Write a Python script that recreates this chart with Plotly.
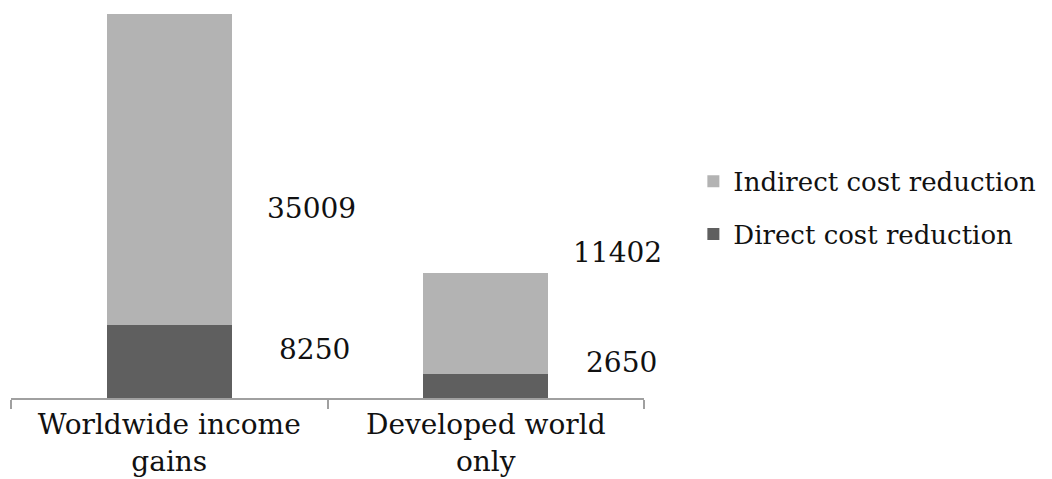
import plotly.graph_objects as go

categories = ["Worldwide income<br>gains", "Developed world<br>only"]
direct = [8250, 2650]
indirect = [35009, 11402]

FONT = "'DejaVu Serif', 'Liberation Serif', serif"
totals = [d + i for d, i in zip(direct, indirect)]

fig = go.Figure()
fig.add_trace(go.Bar(x=categories, y=direct, name="Direct cost reduction",
                     marker=dict(color="#5f5f5f", line=dict(width=0)),
                     legendgroup="d", legendrank=2))
fig.add_trace(go.Bar(x=categories, y=indirect, name="Indirect cost reduction",
                     marker=dict(color="#b3b3b3", line=dict(width=0)),
                     legendgroup="i", legendrank=1))

# data labels, offset to the right of each bar
xshifts_d = [145, 136]
yshifts_d = [12, 24]
xshifts_i = [142, 132]
yshifts_i = [-39, 71]
for k, cat in enumerate(categories):
    fig.add_annotation(x=cat, y=direct[k] / 2, text=str(direct[k]), showarrow=False,
                       xshift=xshifts_d[k], yshift=yshifts_d[k],
                       font=dict(family=FONT, size=28, color="#111"))
    fig.add_annotation(x=cat, y=direct[k] + indirect[k] / 2, text=str(indirect[k]),
                       showarrow=False, xshift=xshifts_i[k], yshift=yshifts_i[k],
                       font=dict(family=FONT, size=28, color="#111"))

fig.update_layout(
    barmode="stack",
    bargap=0.605,
    width=1052, height=479,
    margin=dict(l=11, r=408, t=14, b=81, autoexpand=False),
    paper_bgcolor="white", plot_bgcolor="white",
    font=dict(family=FONT, size=28, color="#111"),
    showlegend=True,
    legend=dict(x=1.078, y=0.495, xanchor="left", yanchor="middle",
                traceorder="grouped", tracegroupgap=16,
                font=dict(family=FONT, size=26, color="#111"),
                bgcolor="rgba(0,0,0,0)"),
    xaxis=dict(showline=True, linecolor="#a0a0a0", linewidth=1.5,
               range=[-0.5, len(categories) - 0.5], autorange=False,
               ticks="outside", tickson="boundaries", ticklen=9,
               tickcolor="#a0a0a0", tickwidth=1.5, showgrid=False,
               automargin=False, ticklabelstandoff=1,
               tickfont=dict(family=FONT, size=28, color="#111")),
    yaxis=dict(visible=False, range=[0, max(totals)], showgrid=False),
)

fig.write_html("out.html")
